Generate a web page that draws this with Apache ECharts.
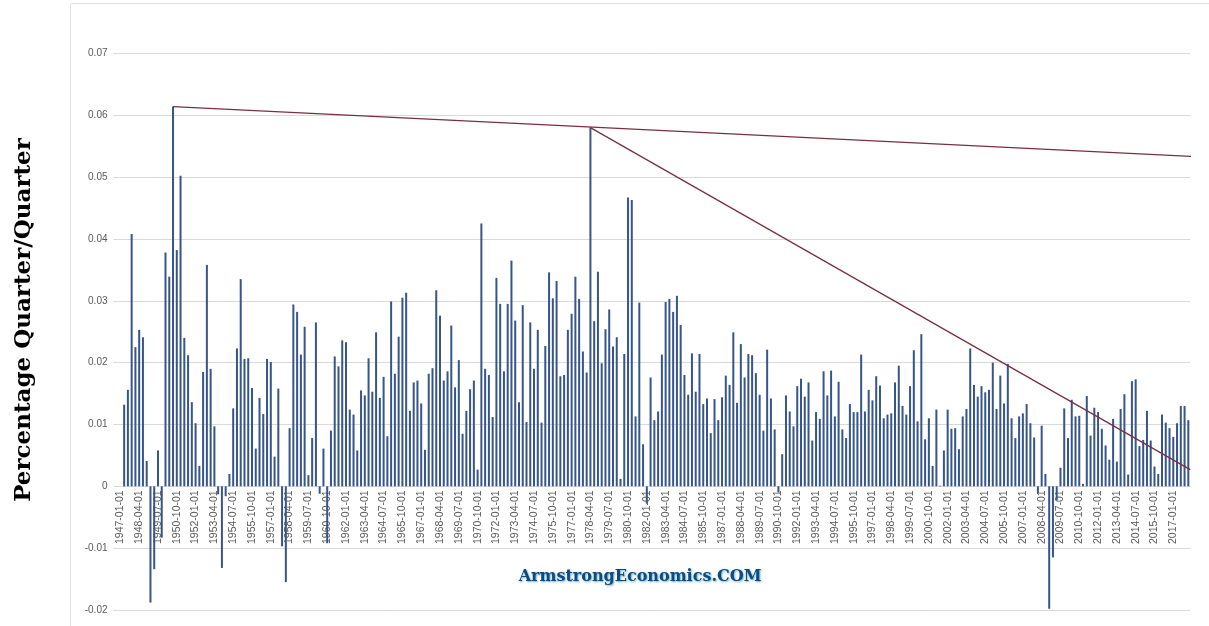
<!DOCTYPE html>
<html>
<head>
<meta charset="utf-8">
<title>Percentage Quarter/Quarter</title>
<script src="https://cdn.jsdelivr.net/npm/echarts@6/dist/echarts.min.js"></script>
<style>
  html, body { margin: 0; padding: 0; background: #ffffff; }
  #chart { width: 1209px; height: 626px; }
</style>
</head>
<body>
<div id="chart"></div>
<script>
// Quarter-over-quarter change, one value per quarter (first quarter has no prior value)
const g1940s = [null, 0.0132, 0.0156, 0.0408, 0.0225, 0.0253, 0.0241, 0.0041, -0.0188, -0.0134, 0.0058, -0.0083];
const g1950s = [0.0378, 0.0339, 0.0614, 0.0382, 0.0502, 0.0240, 0.0212, 0.0136, 0.0102, 0.0033, 0.0185, 0.0358,
  0.0190, 0.0097, -0.0013, -0.0132, -0.0016, 0.0020, 0.0126, 0.0223, 0.0335, 0.0206, 0.0207, 0.0159,
  0.0061, 0.0143, 0.0117, 0.0206, 0.0201, 0.0048, 0.0158, -0.0097, -0.0155, 0.0094, 0.0294, 0.0282,
  0.0213, 0.0258, 0.0018, 0.0078];
const g1960s = [0.0265, -0.0012, 0.0061, -0.0092, 0.0090, 0.0210, 0.0194, 0.0236, 0.0233, 0.0124, 0.0116, 0.0058,
  0.0155, 0.0147, 0.0207, 0.0153, 0.0249, 0.0143, 0.0177, 0.0081, 0.0299, 0.0182, 0.0242, 0.0305,
  0.0313, 0.0122, 0.0168, 0.0171, 0.0134, 0.0059, 0.0182, 0.0191, 0.0317, 0.0276, 0.0171, 0.0186,
  0.0260, 0.0160, 0.0204, 0.0085];
const g1970s = [0.0122, 0.0157, 0.0171, 0.0027, 0.0425, 0.0190, 0.0180, 0.0112, 0.0337, 0.0295, 0.0186, 0.0295,
  0.0365, 0.0268, 0.0136, 0.0293, 0.0104, 0.0265, 0.0190, 0.0253, 0.0103, 0.0227, 0.0346, 0.0304,
  0.0332, 0.0178, 0.0180, 0.0253, 0.0279, 0.0339, 0.0303, 0.0218, 0.0184, 0.0580, 0.0267, 0.0347,
  0.0199, 0.0254, 0.0286, 0.0226];
const g1980s = [0.0241, 0.0012, 0.0214, 0.0467, 0.0463, 0.0113, 0.0297, 0.0068, -0.0028, 0.0176, 0.0107, 0.0121,
  0.0213, 0.0298, 0.0303, 0.0282, 0.0308, 0.0261, 0.0180, 0.0148, 0.0215, 0.0153, 0.0214, 0.0133,
  0.0142, 0.0086, 0.0141, 0.0107, 0.0144, 0.0179, 0.0164, 0.0249, 0.0135, 0.0230, 0.0176, 0.0214,
  0.0212, 0.0183, 0.0148, 0.0090];
const g1990s = [0.0221, 0.0142, 0.0092, -0.0010, 0.0052, 0.0147, 0.0121, 0.0097, 0.0162, 0.0174, 0.0145, 0.0168,
  0.0074, 0.0120, 0.0109, 0.0186, 0.0147, 0.0187, 0.0113, 0.0169, 0.0092, 0.0078, 0.0133, 0.0120,
  0.0120, 0.0213, 0.0121, 0.0156, 0.0139, 0.0178, 0.0163, 0.0110, 0.0116, 0.0118, 0.0168, 0.0195,
  0.0130, 0.0116, 0.0162, 0.0220];
const g2000s = [0.0105, 0.0246, 0.0076, 0.0110, 0.0033, 0.0124, 0.0001, 0.0058, 0.0124, 0.0093, 0.0094, 0.0060,
  0.0113, 0.0125, 0.0223, 0.0164, 0.0145, 0.0162, 0.0152, 0.0156, 0.0200, 0.0125, 0.0179, 0.0134,
  0.0198, 0.0110, 0.0078, 0.0113, 0.0118, 0.0133, 0.0102, 0.0079, -0.0011, 0.0098, 0.0020, -0.0198,
  -0.0115, -0.0022, 0.0030, 0.0126];
const g2010s = [0.0078, 0.0140, 0.0113, 0.0114, 0.0004, 0.0146, 0.0082, 0.0127, 0.0120, 0.0093, 0.0066, 0.0043,
  0.0109, 0.0040, 0.0125, 0.0149, 0.0019, 0.0170, 0.0173, 0.0065, 0.0075, 0.0122, 0.0074, 0.0032,
  0.0020, 0.0116, 0.0103, 0.0094, 0.0080, 0.0102, 0.0130, 0.0130, 0.0107];

// Resistance lines: [quarter index, value] end points
const trendFrom1950 = [[14, 0.0614], [289.5, 0.0532]];
const trendFrom1978 = [[125, 0.0580], [284.5, 0.0027]];

const firstYear = 1947;
const quarterMonths = ['01', '04', '07', '10'];

const values = [].concat(g1940s, g1950s, g1960s, g1970s, g1980s, g1990s, g2000s, g2010s);
const quarters = [];
for (let i = 0; i < values.length; i++) {
  quarters.push((firstYear + Math.floor(i / 4)) + '-' + quarterMonths[i % 4] + '-01');
}

// Value range and plot box
const yMin = -0.02, yMax = 0.07, yStep = 0.01;
const plotTop = 53.4, plotBottom = 16, chartHeight = 626;
const plotHeight = chartHeight - plotTop - plotBottom;
// The category axis sits on the zero line: shift it up from the bottom edge
const zeroShift = -plotHeight * (0 - yMin) / (yMax - yMin);

const chart = echarts.init(document.getElementById('chart'), null, { renderer: 'canvas' });
const gridColor = '#d9d9d9';
const labelColor = '#595959';
const lastIndex = values.length - 1;

chart.setOption({
  animation: false,
  backgroundColor: '#ffffff',
  grid: { left: 118.5, right: 18.8, top: plotTop, bottom: plotBottom, containLabel: false, outerBoundsMode: 'none' },
  xAxis: [
    {
      type: 'category',
      data: quarters,
      boundaryGap: true,
      position: 'bottom',
      offset: zeroShift,
      axisLine: { show: true, onZero: false, lineStyle: { color: gridColor, width: 1 } },
      axisTick: { show: false },
      axisLabel: {
        interval: 4,
        rotate: 90,
        margin: 4,
        color: labelColor,
        fontFamily: 'Liberation Sans',
        fontSize: 10.5
      },
      splitLine: { show: false }
    },
    {
      type: 'value',
      min: -0.5,
      max: lastIndex + 0.5,
      position: 'top',
      show: false,
      axisLine: { onZero: false },
      splitLine: { show: false }
    }
  ],
  yAxis: {
    type: 'value',
    min: yMin,
    max: yMax,
    interval: yStep,
    axisLine: { show: false, onZero: false },
    axisTick: { show: true, length: 5, lineStyle: { color: gridColor } },
    axisLabel: {
      margin: 11,
      color: labelColor,
      fontFamily: 'Liberation Sans',
      fontSize: 10
    },
    splitLine: { show: true, lineStyle: { color: gridColor, width: 1 } }
  },
  series: [
    {
      type: 'bar',
      data: values,
      barWidth: 2,
      itemStyle: { color: '#36558a' },
      z: 2
    },
    {
      type: 'line',
      xAxisIndex: 1,
      data: trendFrom1950,
      symbol: 'none',
      clip: false,
      lineStyle: { color: '#7b2d3f', width: 1.2 },
      z: 5
    },
    {
      type: 'line',
      xAxisIndex: 1,
      data: trendFrom1978,
      symbol: 'none',
      clip: false,
      lineStyle: { color: '#7b2d3f', width: 1.2 },
      z: 5
    }
  ],
  graphic: [
    {
      type: 'rect',
      shape: { x: 70.5, y: 3.5, width: 1200, height: 660 },
      style: { fill: 'none', stroke: '#e2e2e2', lineWidth: 1 },
      silent: true,
      z: -10
    },
    {
      type: 'text',
      x: 24,
      y: 320,
      rotation: Math.PI / 2,
      style: {
        text: 'Percentage Quarter/Quarter',
        fontFamily: 'DejaVu Serif',
        fontWeight: 'bold',
        fontSize: 23,
        fill: '#000000',
        align: 'center',
        verticalAlign: 'middle'
      }
    },
    {
      type: 'text',
      x: 640,
      y: 577,
      style: {
        text: 'ArmstrongEconomics.COM',
        fontFamily: 'DejaVu Serif',
        fontWeight: 'bold',
        fontSize: 16,
        fill: '#0f4a78',
        align: 'center',
        verticalAlign: 'middle',
        textShadowColor: 'rgba(70,160,215,0.85)',
        textShadowBlur: 2,
        textShadowOffsetX: 1,
        textShadowOffsetY: 1
      },
      z: 10
    }
  ]
});
</script>
</body>
</html>
